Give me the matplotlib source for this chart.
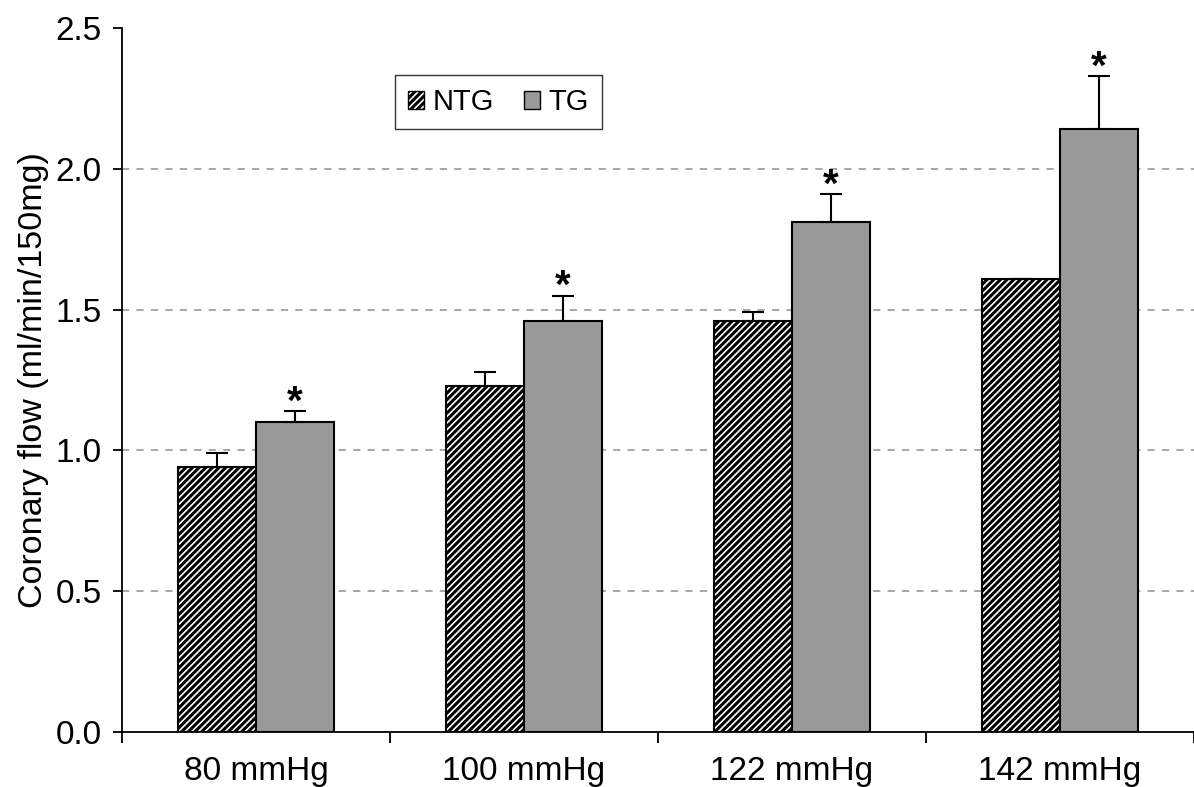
import matplotlib
matplotlib.use('Agg')
import matplotlib.pyplot as plt
from matplotlib.patches import Patch
import numpy as np

categories = ['80 mmHg', '100 mmHg', '122 mmHg', '142 mmHg']
ntg_vals = [0.94, 1.23, 1.46, 1.61]
ntg_err = [0.05, 0.05, 0.03, 0.0]
tg_vals = [1.10, 1.46, 1.81, 2.14]
tg_err = [0.04, 0.09, 0.10, 0.19]

plt.rcParams['font.family'] = ['Liberation Sans', 'DejaVu Sans']
plt.rcParams['hatch.linewidth'] = 2.2
plt.rcParams['hatch.color'] = '#333333'

fig = plt.figure(figsize=(11.94, 7.87), dpi=100)
ax = fig.add_axes([0.1022, 0.0699, 0.8978, 0.8945])

x = np.arange(len(categories))
w = 0.29

# barras NTG (rayadas) y TG (grises)
ax.bar(x - w / 2, ntg_vals, w, facecolor='white', edgecolor='black',
       linewidth=1.5, hatch='/////', zorder=3)
ax.bar(x + w / 2, tg_vals, w, facecolor='#999999', edgecolor='black',
       linewidth=1.5, zorder=3)

# barras de error solo hacia arriba
ax.errorbar(x - w / 2, ntg_vals, yerr=[np.zeros(4), ntg_err], fmt='none',
            ecolor='black', elinewidth=1.5, capsize=8, capthick=1.5, zorder=4)
ax.errorbar(x + w / 2, tg_vals, yerr=[np.zeros(4), tg_err], fmt='none',
            ecolor='black', elinewidth=1.5, capsize=8, capthick=1.5, zorder=4)

for xi, v, e in zip(x, tg_vals, tg_err):
    ax.text(xi + w / 2, v + e + 0.03, '*', ha='center', va='center',
            fontsize=29, fontweight='bold')

ax.set_xlim(-0.5, 3.5)
ax.set_ylim(0, 2.5)
ax.set_yticks([0, 0.5, 1.0, 1.5, 2.0, 2.5])
ax.set_yticklabels(['0.0', '0.5', '1.0', '1.5', '2.0', '2.5'])
ax.set_xticks(np.arange(-0.5, 4.0, 1.0))
ax.set_xticklabels([])
ax.set_xticks(x, minor=True)
ax.set_xticklabels(categories, minor=True)
ax.tick_params(axis='x', which='minor', length=0, labelsize=24, pad=17)
ax.tick_params(axis='x', which='major', length=8, width=1.3, direction='out')
ax.tick_params(axis='y', length=6.5, width=1.3, labelsize=24, pad=8)

for yv in [0.5, 1.0, 1.5, 2.0]:
    ax.axhline(yv, color='#a0a0a0', linestyle=(0, (4, 4)), linewidth=1.3, zorder=1)

ax.spines['top'].set_visible(False)
ax.spines['right'].set_visible(False)
ax.spines['left'].set_linewidth(1.3)
ax.spines['bottom'].set_linewidth(1.3)

ax.set_ylabel('Coronary flow (ml/min/150mg)', fontsize=24.5, labelpad=5)

handles = [Patch(facecolor='white', edgecolor='black', hatch='/////', label='NTG'),
           Patch(facecolor='#999999', edgecolor='black', label='TG')]
leg = ax.legend(handles=handles, loc='upper left', bbox_to_anchor=(0.2547, 0.933),
                ncol=2, fontsize=21, frameon=True, fancybox=False,
                handlelength=0.55, handleheight=0.55, handletextpad=0.3,
                columnspacing=1.0, borderpad=0.45, borderaxespad=0)
leg.get_frame().set_edgecolor('black')
leg.get_frame().set_linewidth(1.0)

fig.savefig('out.png', dpi=100)
